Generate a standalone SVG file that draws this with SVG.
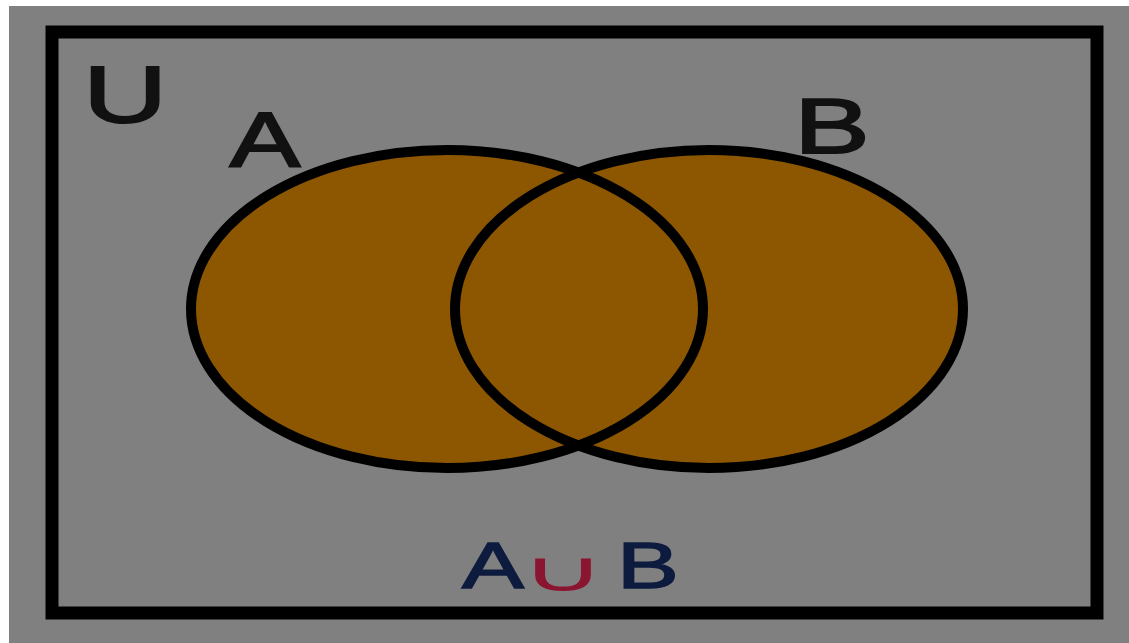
<svg xmlns="http://www.w3.org/2000/svg" width="1129" height="643" viewBox="0 0 1129 643">
  <style>
    .lbl { font-family: "Liberation Sans", Arial, sans-serif; fill: #111; stroke: #111; stroke-width: 2; }
    .cap { font-family: "Liberation Sans", Arial, sans-serif; fill: #0d1b3e; stroke: #0d1b3e; stroke-width: 1.5; }
    .set-fill { fill: #8c5700; stroke: none; }
    .set-line { fill: none; stroke: #000; stroke-width: 10; }
  </style>
  <rect x="0" y="0" width="1129" height="643" fill="#ffffff"/>
  <rect x="9" y="6" width="1120" height="637" fill="#808080"/>
  <g id="universe">
    <rect x="52" y="32" width="1045" height="581" fill="none" stroke="#000" stroke-width="13"/>
    <text class="lbl" text-anchor="middle" font-size="80" transform="translate(125,122) scale(1.45,1)">U</text>
  </g>
  <g id="set-fills">
    <ellipse class="set-fill" cx="447" cy="309" rx="256" ry="159"/>
    <ellipse class="set-fill" cx="709" cy="309" rx="254" ry="159"/>
  </g>
  <g id="set-A">
    <ellipse class="set-line" cx="447" cy="309" rx="256" ry="159"/>
    <text class="lbl" text-anchor="middle" font-size="77" transform="translate(265,167) scale(1.37,1)">A</text>
  </g>
  <g id="set-B">
    <ellipse class="set-line" cx="709" cy="309" rx="254" ry="159"/>
    <text class="lbl" text-anchor="middle" font-size="78" transform="translate(832,153) scale(1.45,1)">B</text>
  </g>
  <g id="caption">
    <text class="cap" text-anchor="middle" font-size="64" transform="translate(493,588) scale(1.45,1)">A</text>
    <text text-anchor="middle" font-size="56" font-weight="200" font-family="DejaVu Sans, sans-serif" fill="#8a1530" transform="translate(563,591) scale(2.1,1)">∪</text>
    <text class="cap" text-anchor="middle" font-size="64" transform="translate(648,588) scale(1.45,1)">B</text>
  </g>
</svg>
